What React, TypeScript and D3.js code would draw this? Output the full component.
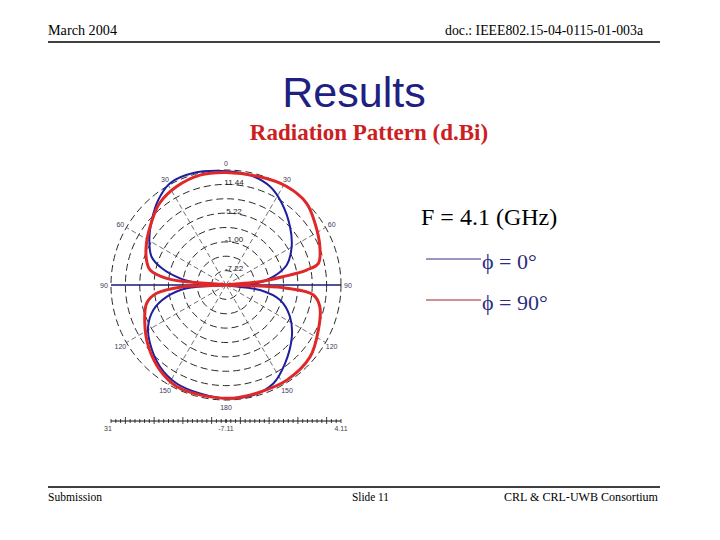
import React from "react";
import * as d3 from "d3";

// ---- data ----
const ringLabelValues = ["-7.22", "-1.00", "5.22", "11.44"]; // labels on rings 1,3,5,7
const ringLabelIndex = [1, 3, 5, 7];
const ringCount = 8;
const dbMin = -10.33;
const dbStep = 3.11;
const spokeAngles = [0, 30, 60, 90, 120, 150, 180, 210, 240, 270, 300, 330];
const spokeLabels = ["0", "30", "60", "90", "120", "150", "180", "150", "120", "90", "60", "30"];
const scaleBarLabels = ["31", "-7.11", "4.11"];

// phi = 0 deg (blue): angle (deg, clockwise from top), gain (dBi)
const phi0Angles = [0, 12.3, 24.1, 34.3, 47.7, 59.8, 71.8, 80, 86.8, 90, 98.4, 105.5, 116.3, 128.2, 143, 154.3, 166.1, 180, 193.5, 206.6, 218.9, 232.5, 241.8, 251, 258.8, 265.2, 270, 273.7, 278.3, 284.6, 290.8, 300.4, 311.2, 321.5, 331.2, 343.7];
const phi0Gain = [14.3, 14.0, 13.0, 11.1, 8.4, 6.1, 3.5, 0.1, -3.7, -10.3, -2.9, 1.8, 5.1, 7.8, 10.9, 13.3, 14.2, 14.2, 13.8, 13.5, 12.4, 10.4, 8.8, 6.3, 2.7, -1.8, -10.3, -4.7, -0.3, 4.0, 6.9, 8.9, 11.0, 13.2, 14.8, 14.9];

// phi = 90 deg (red)
const phi90Angles = [0, 17.4, 31.7, 44.6, 55.3, 67.8, 76.8, 79.5, 81.7, 84.4, 90, 91.8, 93.1, 96.5, 103, 116, 130.5, 147.4, 164.2, 176.3, 193.3, 205.9, 217.8, 231.5, 244.7, 257, 263.2, 267.7, 270, 274.8, 276.4, 281.2, 287.5, 297.7, 310.4, 321.2, 333.4, 346.7];
const phi90Gain = [14.0, 14.2, 14.7, 14.5, 13.1, 11.6, 10.2, 7.4, 2.2, -2.9, -10.3, -3.0, 2.8, 8.7, 10.5, 11.9, 13.6, 14.1, 14.0, 14.2, 14.1, 14.1, 13.0, 11.1, 9.1, 7.3, 4.8, -1.1, -10.3, -1.8, 2.6, 6.4, 7.7, 9.1, 10.8, 12.5, 13.5, 14.1];

const legendItems = ["\u03D5 = 0\u00B0", "\u03D5 = 90\u00B0"];

export default function App() {
  const cx = 226;
  const cy = 285;
  const R = 115;
  const dbMax = dbMin + ringCount * dbStep;
  const r = d3.scaleLinear().domain([dbMin, dbMax]).range([0, R]);
  const ringValues = d3.range(1, ringCount + 1).map((k) => dbMin + k * dbStep);

  const line = d3
    .lineRadial<[number, number]>()
    .angle((d) => (d[0] * Math.PI) / 180)
    .radius((d) => r(d[1]))
    .curve(d3.curveCatmullRomClosed.alpha(0.5));

  const blue = line(phi0Angles.map((a, i) => [a, phi0Gain[i]] as [number, number])) || "";
  const red = line(phi90Angles.map((a, i) => [a, phi90Gain[i]] as [number, number])) || "";

  const tickVals = d3.range(0, ringCount * 3 + 1).map((k) => dbMin + (k * dbStep) / 3);
  const barY = 421;

  const serif = "'Liberation Serif', 'Times New Roman', serif";
  const sans = "'Liberation Sans', Arial, sans-serif";

  return (
    <svg
      width={720}
      height={540}
      style={{ position: "fixed", left: 0, top: 0, background: "#fff" }}
    >
      <rect x={0} y={0} width={720} height={540} fill="#fff" />
      {/* header */}
      <text x={48} y={35} fontFamily={serif} fontSize={14} textLength={69} lengthAdjust="spacingAndGlyphs">March 2004</text>
      <text x={643} y={35} fontFamily={serif} fontSize={14} textAnchor="end" textLength={198} lengthAdjust="spacingAndGlyphs">doc.: IEEE802.15-04-0115-01-003a</text>
      <line x1={48} x2={660} y1={42} y2={42} stroke="#000" strokeWidth={1.5} />

      {/* titles */}
      <text x={354} y={107} fontFamily={sans} fontSize={43} fill="#202080" textAnchor="middle">Results</text>
      <text x={369} y={140} fontFamily={serif} fontSize={23} fontWeight="bold" fill="#cc2020" textAnchor="middle">Radiation Pattern (d.Bi)</text>

      {/* polar grid */}
      <g>
        {ringValues.map((v, i) => (
          <circle key={i} cx={cx} cy={cy} r={r(v)} fill="none" stroke="#111" strokeWidth={0.9} strokeDasharray="7,4" />
        ))}
        {spokeAngles
          .filter((a) => a % 90 !== 0)
          .map((a) => {
            const t = (a * Math.PI) / 180;
            return (
              <line key={a} x1={cx} y1={cy} x2={cx + R * Math.sin(t)} y2={cy - R * Math.cos(t)} stroke="#333" strokeWidth={0.7} strokeDasharray="5,3" />
            );
          })}
        <line x1={cx - R} x2={cx + R} y1={cy} y2={cy} stroke="#1a1a6e" strokeWidth={1.5} />
        {spokeAngles.map((a, i) => {
          const t = (a * Math.PI) / 180;
          const lr = R + 7;
          return (
            <text key={a} x={cx + lr * Math.sin(t)} y={cy - lr * Math.cos(t)} fontFamily={sans} fontSize={7} fill="#3a3a5a" textAnchor="middle" dominantBaseline="central">
              {spokeLabels[i]}
            </text>
          );
        })}
        {ringLabelIndex.map((k, i) => (
          <text key={k} x={cx + 8} y={cy - r(ringValues[k - 1]) + 0.5} fontFamily={sans} fontSize={8} fill="#222" textAnchor="middle">
            {ringLabelValues[i]}
          </text>
        ))}
      </g>

      {/* pattern curves */}
      <g transform={`translate(${cx},${cy})`}>
        <path d={blue} fill="none" stroke="#1e1ea0" strokeWidth={2} strokeLinejoin="round" />
        <path d={red} fill="none" stroke="#e02828" strokeWidth={3} strokeLinejoin="round" />
      </g>

      {/* scale bar */}
      <g>
        <line x1={cx - R} x2={cx + R} y1={barY} y2={barY} stroke="#111" strokeWidth={1} />
        {tickVals.map((v, k) => {
          const major = k % 6 === 3;
          const dx = r(v);
          return (
            <g key={k}>
              {[cx - dx, cx + dx].map((x, j) => (
                <line key={j} x1={x} x2={x} y1={barY - (major ? 4 : 2)} y2={barY + (major ? 3 : 2)} stroke="#111" strokeWidth={0.8} />
              ))}
            </g>
          );
        })}
        <text x={cx - R - 3} y={431} fontFamily={sans} fontSize={7} fill="#444" textAnchor="middle">{scaleBarLabels[0]}</text>
        <text x={cx} y={431} fontFamily={sans} fontSize={7} fill="#444" textAnchor="middle">{scaleBarLabels[1]}</text>
        <text x={cx + R} y={431} fontFamily={sans} fontSize={7} fill="#444" textAnchor="middle">{scaleBarLabels[2]}</text>
      </g>

      {/* legend */}
      <text x={421} y={225} fontFamily={serif} fontSize={24} fill="#000">F = 4.1 (GHz)</text>
      <line x1={426} x2={481} y1={259} y2={259} stroke="#303080" strokeWidth={1} />
      <text x={482} y={269} fontFamily={serif} fontSize={22} fill="#2e2e7e">{legendItems[0]}</text>
      <line x1={426} x2={481} y1={300} y2={300} stroke="#a02020" strokeWidth={1} />
      <text x={482} y={310} fontFamily={serif} fontSize={22} fill="#2e2e7e">{legendItems[1]}</text>

      {/* footer */}
      <line x1={48} x2={660} y1={487} y2={487} stroke="#000" strokeWidth={1.5} />
      <text x={48} y={501} fontFamily={serif} fontSize={13} textLength={54} lengthAdjust="spacingAndGlyphs">Submission</text>
      <text x={352} y={501} fontFamily={serif} fontSize={13} textLength={37} lengthAdjust="spacingAndGlyphs">Slide 11</text>
      <text x={658} y={501} fontFamily={serif} fontSize={13} textAnchor="end" textLength={154} lengthAdjust="spacingAndGlyphs">CRL &amp; CRL-UWB Consortium</text>
    </svg>
  );
}
